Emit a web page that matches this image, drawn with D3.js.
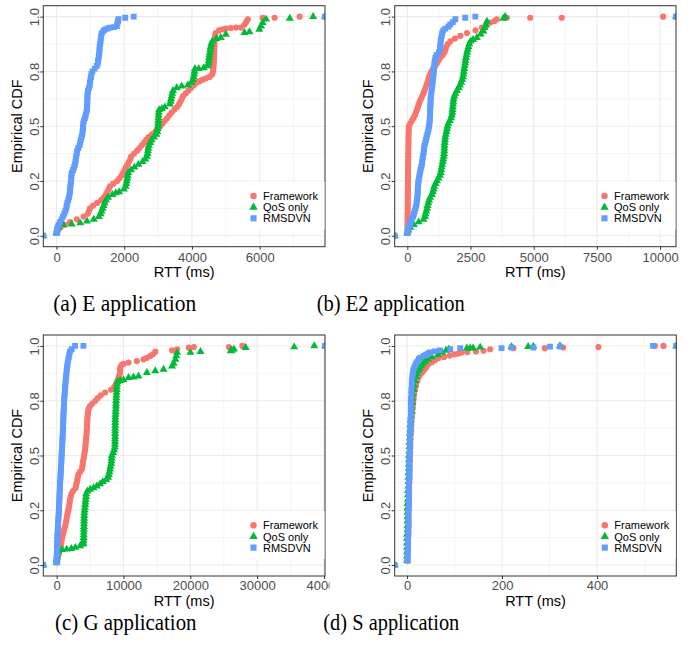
<!DOCTYPE html>
<html>
<head>
<meta charset="utf-8">
<script src="https://cdn.jsdelivr.net/npm/d3@7"></script>
<style>
  body { margin: 0; background: #fff; }
  text { font-family: "Liberation Sans", Arial, sans-serif; }
</style>
</head>
<body>
<div id="my_dataviz"></div>
<script>

// ---- data: [RTT (ms), empirical CDF] ----
var seriesNames = ["Framework", "QoS only", "RMSDVN"];

// (a) E application
var eFramework = [[0,.0125],[40,.025],[120,.0375],[250,.05],[400,.0625],[600,.075],[800,.0875],[920,.1],[960,.1125],[990,.125],[1080,.1375],[1200,.15],[1320,.1625],[1400,.175],[1460,.1875],[1500,.2],[1540,.2125],[1580,.225],[1680,.2375],[1790,.25],[1860,.2625],[1920,.275],[1970,.2875],[2010,.3],[2050,.3125],[2100,.325],[2140,.3375],[2180,.35],[2210,.3625],[2290,.375],[2380,.3875],[2450,.4],[2520,.4125],[2590,.425],[2650,.4375],[2720,.45],[2820,.4625],[2920,.475],[3000,.4875],[3060,.5],[3130,.5125],[3200,.525],[3270,.5375],[3330,.55],[3400,.5625],[3480,.575],[3560,.5875],[3620,.6],[3660,.6125],[3700,.625],[3740,.6375],[3820,.65],[3900,.6625],[3980,.675],[4060,.6875],[4140,.7],[4230,.706],[4320,.7125],[4420,.719],[4520,.725],[4600,.7375],[4620,.75],[4630,.7625],[4640,.775],[4645,.7875],[4650,.8],[4652,.8125],[4655,.825],[4658,.8375],[4660,.85],[4662,.8625],[4665,.875],[4670,.8875],[4675,.9],[4685,.9125],[4700,.925],[4800,.937],[4900,.942],[5000,.945],[5150,.948],[5300,.95],[5450,.95],[5550,.963],[5600,.975],[5650,.988],[6090,.995],[6440,.995],[7180,1]];
var eQos = [[0,.0125],[20,.025],[50,.0375],[200,.05],[450,.053],[700,.058],[900,.066],[1100,.075],[1250,.0875],[1300,.1],[1330,.1125],[1360,.125],[1390,.1375],[1420,.15],[1460,.1625],[1520,.175],[1650,.1875],[1750,.195],[1850,.2],[1990,.2125],[2040,.225],[2060,.2375],[2075,.25],[2090,.2625],[2100,.275],[2120,.2875],[2200,.3],[2300,.3125],[2420,.325],[2540,.3375],[2620,.35],[2670,.3625],[2690,.375],[2700,.3875],[2710,.4],[2730,.4125],[2770,.425],[2810,.4375],[2880,.45],[2950,.4625],[2975,.475],[2985,.4875],[2995,.5],[3000,.5125],[3005,.525],[3010,.5375],[3015,.55],[3020,.5625],[3030,.575],[3110,.58],[3200,.5875],[3350,.6],[3370,.6125],[3385,.625],[3400,.6375],[3420,.65],[3440,.6625],[3550,.675],[3700,.683],[3880,.6875],[3990,.7],[4030,.7125],[4050,.725],[4065,.7375],[4075,.75],[4090,.7625],[4200,.763],[4350,.766],[4470,.775],[4490,.7875],[4500,.8],[4510,.8125],[4520,.825],[4530,.8375],[4540,.85],[4555,.8625],[4570,.875],[4600,.8875],[4720,.9],[4850,.904],[5000,.919],[5550,.927],[5700,.93],[5990,.942],[6040,.957],[6090,.973],[6190,.988],[6890,.992],[7580,1]];
var eRmsdvn = [[0,.0125],[10,.025],[30,.0375],[60,.05],[100,.0625],[150,.075],[190,.0875],[230,.1],[260,.1125],[290,.125],[300,.1375],[320,.15],[345,.1625],[370,.175],[385,.1875],[395,.2],[400,.2125],[410,.225],[420,.2375],[430,.25],[435,.2625],[440,.275],[450,.2875],[490,.3],[520,.3125],[545,.325],[560,.3375],[570,.35],[580,.3625],[600,.375],[610,.3875],[640,.4],[680,.4125],[700,.425],[720,.4375],[740,.45],[760,.4625],[770,.475],[780,.4875],[785,.5],[790,.5125],[810,.525],[840,.5375],[860,.55],[880,.5625],[900,.575],[905,.5875],[905,.6],[910,.6125],[910,.625],[915,.6375],[920,.65],[930,.6625],[960,.675],[980,.6875],[990,.7],[1000,.7125],[1020,.725],[1030,.7375],[1060,.75],[1130,.7625],[1190,.775],[1220,.7875],[1230,.8],[1245,.8125],[1255,.825],[1265,.8375],[1270,.85],[1275,.8625],[1290,.875],[1300,.8875],[1310,.9],[1320,.9125],[1337,.925],[1390,.935],[1435,.942],[1510,.946],[1584,.95],[1700,.952],[1783,.957],[1800,.97],[1815,.98],[1830,.988],[2030,.995],[2280,1]];

// (b) E2 application
var e2Framework = [[0,.0125],[2,.025],[4,.0375],[5,.05],[7,.0625],[9,.075],[10,.0875],[11,.1],[13,.1125],[14,.125],[14,.1375],[16,.15],[17,.1625],[19,.175],[20,.1875],[21,.2],[21,.2125],[23,.225],[24,.2375],[25,.25],[27,.2625],[28,.275],[28,.2875],[30,.3],[31,.3125],[32,.325],[34,.3375],[35,.35],[36,.3625],[38,.375],[39,.3875],[41,.4],[42,.4125],[44,.425],[45,.4375],[47,.45],[49,.4625],[52,.475],[56,.4875],[62,.5],[120,.5125],[180,.525],[240,.5375],[300,.55],[340,.5625],[380,.575],[420,.5875],[450,.6],[490,.6125],[540,.625],[590,.6375],[640,.65],[680,.6625],[720,.675],[760,.6875],[800,.7],[830,.7125],[860,.725],[910,.7375],[960,.75],[1020,.7625],[1100,.775],[1170,.7875],[1230,.8],[1300,.8125],[1400,.825],[1470,.8375],[1510,.85],[1545,.8625],[1600,.875],[1700,.8875],[1880,.9],[2100,.9125],[2360,.925],[2700,.9375],[2950,.95],[3150,.962],[3280,.973],[3450,.98],[3540,.988],[3940,.995],[4860,.995],[6110,.995],[10120,1]];
var e2Qos = [[0,.0125],[40,.025],[120,.0375],[260,.05],[450,.0625],[640,.075],[700,.0875],[720,.1],[750,.1125],[780,.125],[800,.1375],[830,.15],[860,.1625],[900,.175],[970,.1875],[1010,.2],[1040,.2125],[1060,.225],[1120,.2375],[1170,.25],[1230,.2625],[1290,.275],[1320,.2875],[1340,.3],[1360,.3125],[1380,.325],[1400,.3375],[1420,.35],[1440,.3625],[1450,.375],[1460,.3875],[1465,.4],[1470,.4125],[1480,.425],[1490,.4375],[1500,.45],[1520,.4625],[1550,.475],[1570,.4875],[1590,.5],[1620,.5125],[1680,.525],[1730,.5375],[1760,.55],[1780,.5625],[1790,.575],[1800,.5875],[1810,.6],[1820,.6125],[1830,.625],[1860,.6375],[1900,.65],[1960,.6625],[2030,.675],[2080,.6875],[2130,.7],[2170,.7125],[2200,.725],[2220,.7375],[2235,.75],[2250,.7625],[2270,.775],[2290,.7875],[2300,.8],[2320,.8125],[2340,.825],[2360,.8375],[2390,.85],[2420,.8625],[2450,.875],[2500,.8875],[2600,.895],[2750,.904],[2900,.92],[3010,.934],[3060,.95],[3100,.962],[3150,.978],[3800,.992],[3870,1]];
var e2Rmsdvn = [[0,.0125],[20,.025],[50,.0375],[100,.05],[130,.0625],[170,.075],[230,.0875],[260,.1],[290,.1125],[320,.125],[350,.1375],[370,.15],[385,.1625],[395,.175],[405,.1875],[410,.2],[415,.2125],[420,.225],[430,.2375],[440,.25],[460,.2625],[480,.275],[500,.2875],[520,.3],[550,.3125],[575,.325],[590,.3375],[600,.35],[620,.3625],[640,.375],[650,.3875],[660,.4],[680,.4125],[710,.425],[740,.4375],[760,.45],[790,.4625],[820,.475],[840,.4875],[860,.5],[875,.5125],[885,.525],[890,.5375],[895,.55],[900,.5625],[905,.575],[910,.5875],[915,.6],[918,.6125],[921,.625],[930,.6375],[945,.65],[960,.6625],[975,.675],[990,.6875],[1000,.7],[1015,.7125],[1025,.725],[1035,.7375],[1045,.75],[1055,.7625],[1065,.775],[1075,.7875],[1085,.8],[1110,.8125],[1160,.825],[1250,.8375],[1290,.85],[1300,.8625],[1310,.875],[1320,.8875],[1340,.9],[1360,.9125],[1380,.925],[1420,.9375],[1500,.945],[1630,.955],[1700,.965],[1800,.975],[1900,.988],[2290,.995],[2690,1]];

// (c) G application
var gFramework = [[0,.0125],[80,.025],[200,.0375],[300,.05],[400,.0625],[550,.075],[620,.0875],[680,.1],[740,.1125],[820,.125],[920,.1375],[1020,.15],[1120,.1625],[1240,.175],[1340,.1875],[1420,.2],[1490,.2125],[1560,.225],[1650,.2375],[1740,.25],[1820,.2625],[1890,.275],[1950,.2875],[2010,.3],[2100,.3125],[2220,.325],[2450,.3375],[2800,.35],[2900,.3625],[3000,.375],[3080,.3875],[3160,.4],[3250,.4125],[3500,.425],[3760,.4375],[3850,.45],[3900,.4625],[3960,.475],[4040,.4875],[4120,.5],[4180,.5125],[4240,.525],[4290,.5375],[4330,.55],[4370,.5625],[4410,.575],[4440,.5875],[4480,.6],[4510,.6125],[4530,.625],[4550,.6375],[4570,.65],[4590,.6625],[4620,.675],[4660,.6875],[4700,.7],[4780,.7125],[4990,.725],[5350,.7375],[5800,.75],[6150,.7625],[6600,.775],[7250,.7875],[8150,.8],[8600,.8125],[8850,.825],[9050,.8375],[9200,.85],[9350,.8625],[9470,.875],[9490,.8875],[9500,.9],[9700,.9125],[10000,.918],[10750,.924],[12000,.931],[13000,.939],[13500,.946],[14000,.954],[14400,.962],[14770,.974],[17270,.98],[18020,.985],[19770,.992],[20520,.995],[25770,.995],[27790,1]];
var gQos = [[0,.0125],[0,.025],[50,.0375],[100,.05],[250,.0625],[800,.07],[1500,.072],[2200,.075],[2800,.08],[3500,.087],[3900,.095],[4000,.1],[4020,.1125],[4040,.125],[4050,.1375],[4060,.15],[4070,.1625],[4080,.175],[4090,.1875],[4100,.2],[4110,.2125],[4130,.225],[4150,.2375],[4180,.25],[4220,.2625],[4260,.275],[4300,.2875],[4350,.3],[4390,.3125],[4420,.325],[4590,.3375],[5000,.345],[5500,.352],[6000,.36],[6500,.37],[6900,.38],[7400,.39],[7700,.4],[7800,.4125],[7900,.425],[7980,.4375],[8050,.45],[8150,.4625],[8200,.475],[8230,.4875],[8260,.5],[8450,.5125],[8600,.525],[8700,.5375],[8720,.55],[8730,.5625],[8735,.575],[8740,.5875],[8745,.6],[8750,.6125],[8755,.625],[8760,.6375],[8765,.65],[8770,.6625],[8790,.675],[8810,.6875],[8830,.7],[8850,.7125],[8870,.725],[8880,.7375],[8900,.75],[8920,.7625],[8940,.775],[8960,.7875],[8980,.8],[9000,.8125],[9050,.825],[9100,.8375],[9500,.842],[10000,.845],[10750,.855],[11500,.858],[12250,.862],[13500,.878],[14750,.886],[16000,.893],[17270,.908],[17500,.92],[17770,.939],[17900,.955],[18020,.97],[20020,.97],[21520,.974],[26030,.977],[26200,.98],[26520,.985],[28280,.992],[35540,.995],[38540,1]];
var gRmsdvn = [[0,.0125],[0,.025],[10,.0375],[20,.05],[40,.0625],[60,.075],[70,.0875],[80,.1],[90,.1125],[100,.125],[120,.1375],[150,.15],[170,.1625],[190,.175],[210,.1875],[230,.2],[260,.2125],[290,.225],[310,.2375],[330,.25],[350,.2625],[370,.275],[390,.2875],[410,.3],[420,.3125],[440,.325],[460,.3375],[470,.35],[490,.3625],[510,.375],[540,.3875],[570,.4],[590,.4125],[610,.425],[630,.4375],[660,.45],[680,.4625],[700,.475],[720,.4875],[740,.5],[760,.5125],[790,.525],[810,.5375],[830,.55],[850,.5625],[870,.575],[890,.5875],[910,.6],[930,.6125],[950,.625],[960,.6375],[975,.65],[990,.6625],[1005,.675],[1020,.6875],[1040,.7],[1060,.7125],[1080,.725],[1100,.7375],[1120,.75],[1150,.7625],[1180,.775],[1210,.7875],[1240,.8],[1270,.8125],[1300,.825],[1340,.8375],[1380,.85],[1420,.8625],[1460,.875],[1500,.8875],[1540,.9],[1600,.9125],[1660,.925],[1740,.9375],[1820,.95],[1900,.9625],[2000,.975],[2250,.985],[2750,1],[4000,1]];

// (d) S application
var sFramework = [[1,.02],[1,.04],[1,.06],[2,.08],[2,.1],[2,.12],[2,.14],[2,.16],[3,.18],[3,.2],[3,.22],[3,.24],[3,.26],[4,.28],[4,.3],[4,.32],[4,.34],[4,.36],[5,.38],[5,.4],[5,.42],[5,.44],[5,.46],[6,.48],[6,.5],[6,.52],[7,.54],[7,.56],[7,.58],[8,.6],[8,.62],[9,.64],[9,.66],[10,.68],[11,.7],[12,.72],[13,.74],[14,.76],[15,.78],[17,.8],[19,.82],[22,.84],[25,.86],[28,.87],[32,.88],[36,.89],[40,.9],[45,.916],[52,.926],[59,.935],[66,.944],[78,.95],[90,.956],[100,.962],[108,.965],[115,.97],[127,.972],[145,.975],[161,.978],[175,.985],[224,.99],[290,.99],[329,.993],[403,.995],[522,1],[540,1]];
var sQos = [[0,.02],[0,.04],[0,.06],[0,.08],[0,.1],[0,.12],[0,.14],[1,.16],[1,.18],[1,.2],[1,.22],[1,.24],[1,.26],[1,.28],[2,.3],[2,.32],[2,.34],[3,.36],[3,.38],[3,.4],[3,.42],[4,.44],[4,.46],[4,.48],[4,.5],[5,.52],[5,.54],[5,.56],[6,.58],[6,.6],[7,.62],[7,.64],[8,.66],[9,.68],[10,.7],[10,.72],[11,.74],[11,.76],[12,.78],[14,.8],[15,.82],[17,.84],[19,.86],[21,.875],[24,.89],[27,.9],[30,.91],[34,.92],[38,.93],[44,.94],[52,.95],[65,.96],[74,.97],[82,.98],[88,.985],[126,.99],[133,.99],[139,.99],[154,.994],[220,.997],[255,.997],[266,.998],[322,1]];
var sRmsdvn = [[1,.02],[1,.04],[2,.06],[2,.08],[2,.1],[2,.12],[3,.14],[3,.16],[3,.18],[3,.2],[3,.22],[3,.24],[4,.26],[4,.28],[4,.3],[4,.32],[4,.34],[4,.36],[4,.38],[5,.4],[5,.42],[5,.44],[5,.46],[5,.48],[5,.5],[6,.52],[6,.54],[6,.56],[6,.58],[6,.6],[7,.62],[7,.64],[7,.66],[8,.68],[8,.7],[8,.72],[8,.74],[8,.76],[9,.78],[9,.8],[10,.82],[10,.84],[11,.86],[12,.875],[13,.89],[15,.9],[17,.91],[19,.92],[22,.93],[25,.94],[28,.947],[35,.955],[40,.96],[44,.965],[48,.97],[58,.975],[69,.98],[91,.985],[112,.99],[199,.99],[220,.993],[266,.993],[301,.997],[322,.997],[518,1]];

// ticks
var cdfTicks = [0, 0.25, 0.5, 0.75, 1];
var cdfLabels = ["0.0", "0.2", "0.5", "0.8", "1.0"];
var cdfMinor = [0.125, 0.375, 0.625, 0.875];
var eTicks = [0, 2000, 4000, 6000], eMinor = [1000, 3000, 5000, 7000];
var e2Ticks = [0, 2500, 5000, 7500, 10000], e2Minor = [1250, 3750, 6250, 8750];
var gTicks = [0, 10000, 20000, 30000, 40000], gMinor = [5000, 15000, 25000, 35000];
var sTicks = [0, 200, 400], sMinor = [100, 300, 500];

var captions = ["(a) E application", "(b) E2 application", "(c) G application", "(d) S application"];

var colors = ["#F8766D", "#00BA38", "#619CFF"];
var shapes = [d3.symbolCircle, d3.symbolTriangle, d3.symbolSquare];
var shapeSize = [30, 28, 34];

var svg = d3.select("#my_dataviz")
    .append("svg")
    .attr("width", 694)
    .attr("height", 648)
    .style("background-color", "#fff");

var defs = svg.append("defs");

function drawPanel(id, p) {

    var g = svg.append("g").attr("id", id);
    if (p.clipRight) {
        defs.append("clipPath").attr("id", id + "-fig")
            .append("rect").attr("x", 0).attr("y", 0).attr("width", p.clipRight).attr("height", 648);
        g.attr("clip-path", "url(#" + id + "-fig)");
    }

    var x = d3.scaleLinear().domain(p.xDomain).range([p.left, p.right]);
    var y = d3.scaleLinear().domain([-0.05, 1.05]).range([p.bottom, p.top]);

    defs.append("clipPath").attr("id", id + "-clip")
        .append("rect")
        .attr("x", p.left).attr("y", p.top)
        .attr("width", p.right - p.left).attr("height", p.bottom - p.top);

    // grid
    var grid = g.append("g");
    grid.selectAll(".vminor").data(p.xMinor).enter().append("line")
        .attr("x1", d => x(d)).attr("x2", d => x(d))
        .attr("y1", p.top).attr("y2", p.bottom)
        .style("stroke", "#f2f2f2").style("stroke-width", 0.8);
    grid.selectAll(".hminor").data(cdfMinor).enter().append("line")
        .attr("x1", p.left).attr("x2", p.right)
        .attr("y1", d => y(d)).attr("y2", d => y(d))
        .style("stroke", "#f2f2f2").style("stroke-width", 0.8);
    grid.selectAll(".vmajor").data(p.xTicks).enter().append("line")
        .attr("x1", d => x(d)).attr("x2", d => x(d))
        .attr("y1", p.top).attr("y2", p.bottom)
        .style("stroke", "#ebebeb").style("stroke-width", 1.1);
    grid.selectAll(".hmajor").data(cdfTicks).enter().append("line")
        .attr("x1", p.left).attr("x2", p.right)
        .attr("y1", d => y(d)).attr("y2", d => y(d))
        .style("stroke", "#ebebeb").style("stroke-width", 1.1);

    // ecdf points (ggplot pads each group with -Inf at 0 and Inf at 1)
    var pts = g.append("g").attr("clip-path", "url(#" + id + "-clip)");
    p.series.forEach(function (s, i) {
        var sym = d3.symbol().type(shapes[i]).size(shapeSize[i]);
        var rows = [[p.left, 0], [p.right, 1]];
        pts.selectAll(".pad" + i).data(rows).enter().append("path")
            .attr("d", sym)
            .attr("transform", d => "translate(" + d[0] + "," + y(d[1]) + ")")
            .style("fill", colors[i]);
        pts.selectAll(".pt" + i).data(s).enter().append("path")
            .attr("d", sym)
            .attr("transform", d => "translate(" + x(d[0]) + "," + y(d[1]) + ")")
            .style("fill", colors[i]);
    });

    // axes
    var xAxis = g.append("g")
        .attr("transform", "translate(0," + p.bottom + ")")
        .call(d3.axisBottom(x).tickValues(p.xTicks).tickSize(3).tickPadding(p.tickPad).tickFormat(d3.format("d")));
    xAxis.select(".domain").remove();
    xAxis.selectAll("line").style("stroke", "#333");
    xAxis.selectAll("text").style("font-size", "13px").style("fill", "#4d4d4d")
        .style("font-family", "'Liberation Sans', Arial, sans-serif");

    var yAxis = g.append("g")
        .attr("transform", "translate(" + p.left + ",0)")
        .call(d3.axisLeft(y).tickValues(cdfTicks).tickSize(3).tickFormat((d, i) => cdfLabels[i]));
    yAxis.select(".domain").remove();
    yAxis.selectAll("line").style("stroke", "#333");
    yAxis.selectAll("text")
        .attr("x", null).attr("dy", null)
        .attr("text-anchor", "middle")
        .attr("transform", "translate(-4.5,0) rotate(-90)")
        .style("font-size", "13px").style("fill", "#4d4d4d")
        .style("font-family", "'Liberation Sans', Arial, sans-serif");

    // panel border
    g.append("rect")
        .attr("x", p.left).attr("y", p.top)
        .attr("width", p.right - p.left).attr("height", p.bottom - p.top)
        .style("fill", "none").style("stroke", "#333").style("stroke-width", 1);

    // axis titles
    g.append("text")
        .attr("x", (p.left + p.right) / 2)
        .attr("y", p.bottom + p.titleGap)
        .attr("text-anchor", "middle")
        .style("font-size", "14.5px")
        .text("RTT (ms)");

    g.append("text")
        .attr("transform", "translate(" + (p.left - 21.5) + "," + ((p.top + p.bottom) / 2) + ") rotate(-90)")
        .attr("text-anchor", "middle")
        .style("font-size", "14.5px")
        .text("Empirical CDF");

    // legend inside the panel, bottom right
    var lg = g.append("g");
    lg.append("rect")
        .attr("x", p.right - 78).attr("y", p.bottom - 65)
        .attr("width", 77.5).attr("height", 48)
        .style("fill", "#fff");
    var rowY = [50.7, 39.4, 28.4];
    seriesNames.forEach(function (name, i) {
        lg.append("path")
            .attr("d", d3.symbol().type(shapes[i]).size(shapeSize[i] * 1.1))
            .attr("transform", "translate(" + (p.right - 71.5) + "," + (p.bottom - rowY[i]) + ")")
            .style("fill", colors[i]);
        lg.append("text")
            .attr("x", p.right - 62)
            .attr("y", p.bottom - rowY[i])
            .attr("dy", "0.36em")
            .style("font-size", "11px")
            .text(name);
    });

    // caption
    g.append("text")
        .attr("x", p.capX - p.capW / 2)
        .attr("y", p.capY)
        .attr("textLength", p.capW)
        .attr("lengthAdjust", "spacingAndGlyphs")
        .style("font-family", "'Liberation Serif', 'Times New Roman', serif")
        .style("font-size", "23px")
        .text(p.caption);
}

drawPanel("pa", { left: 43.3, right: 325, top: 5.7, bottom: 246.7, xDomain: [-390, 7930],
    xTicks: eTicks, xMinor: eMinor, series: [eFramework, eQos, eRmsdvn], tickPad: 3, titleGap: 30.5,
    caption: captions[0], capX: 124.7, capY: 310.5, capW: 143 });

drawPanel("pb", { left: 394.7, right: 676, top: 5.7, bottom: 246.7, xDomain: [-500, 10630],
    xTicks: e2Ticks, xMinor: e2Minor, series: [e2Framework, e2Qos, e2Rmsdvn], tickPad: 3, titleGap: 30.5,
    caption: captions[1], capX: 390.8, capY: 310.5, capW: 148 });

drawPanel("pc", { left: 43.3, right: 325, top: 335, bottom: 576, xDomain: [-2000, 40150],
    xTicks: gTicks, xMinor: gMinor, series: [gFramework, gQos, gRmsdvn], tickPad: 2, titleGap: 29.8,
    caption: captions[2], capX: 125.8, capY: 629.5, capW: 141.5, clipRight: 329.5 });

drawPanel("pd", { left: 394.7, right: 676.3, top: 335, bottom: 576, xDomain: [-26, 567],
    xTicks: sTicks, xMinor: sMinor, series: [sFramework, sQos, sRmsdvn], tickPad: 2, titleGap: 29.8,
    caption: captions[3], capX: 391.3, capY: 629.5, capW: 136 });

</script>
</body>
</html>
